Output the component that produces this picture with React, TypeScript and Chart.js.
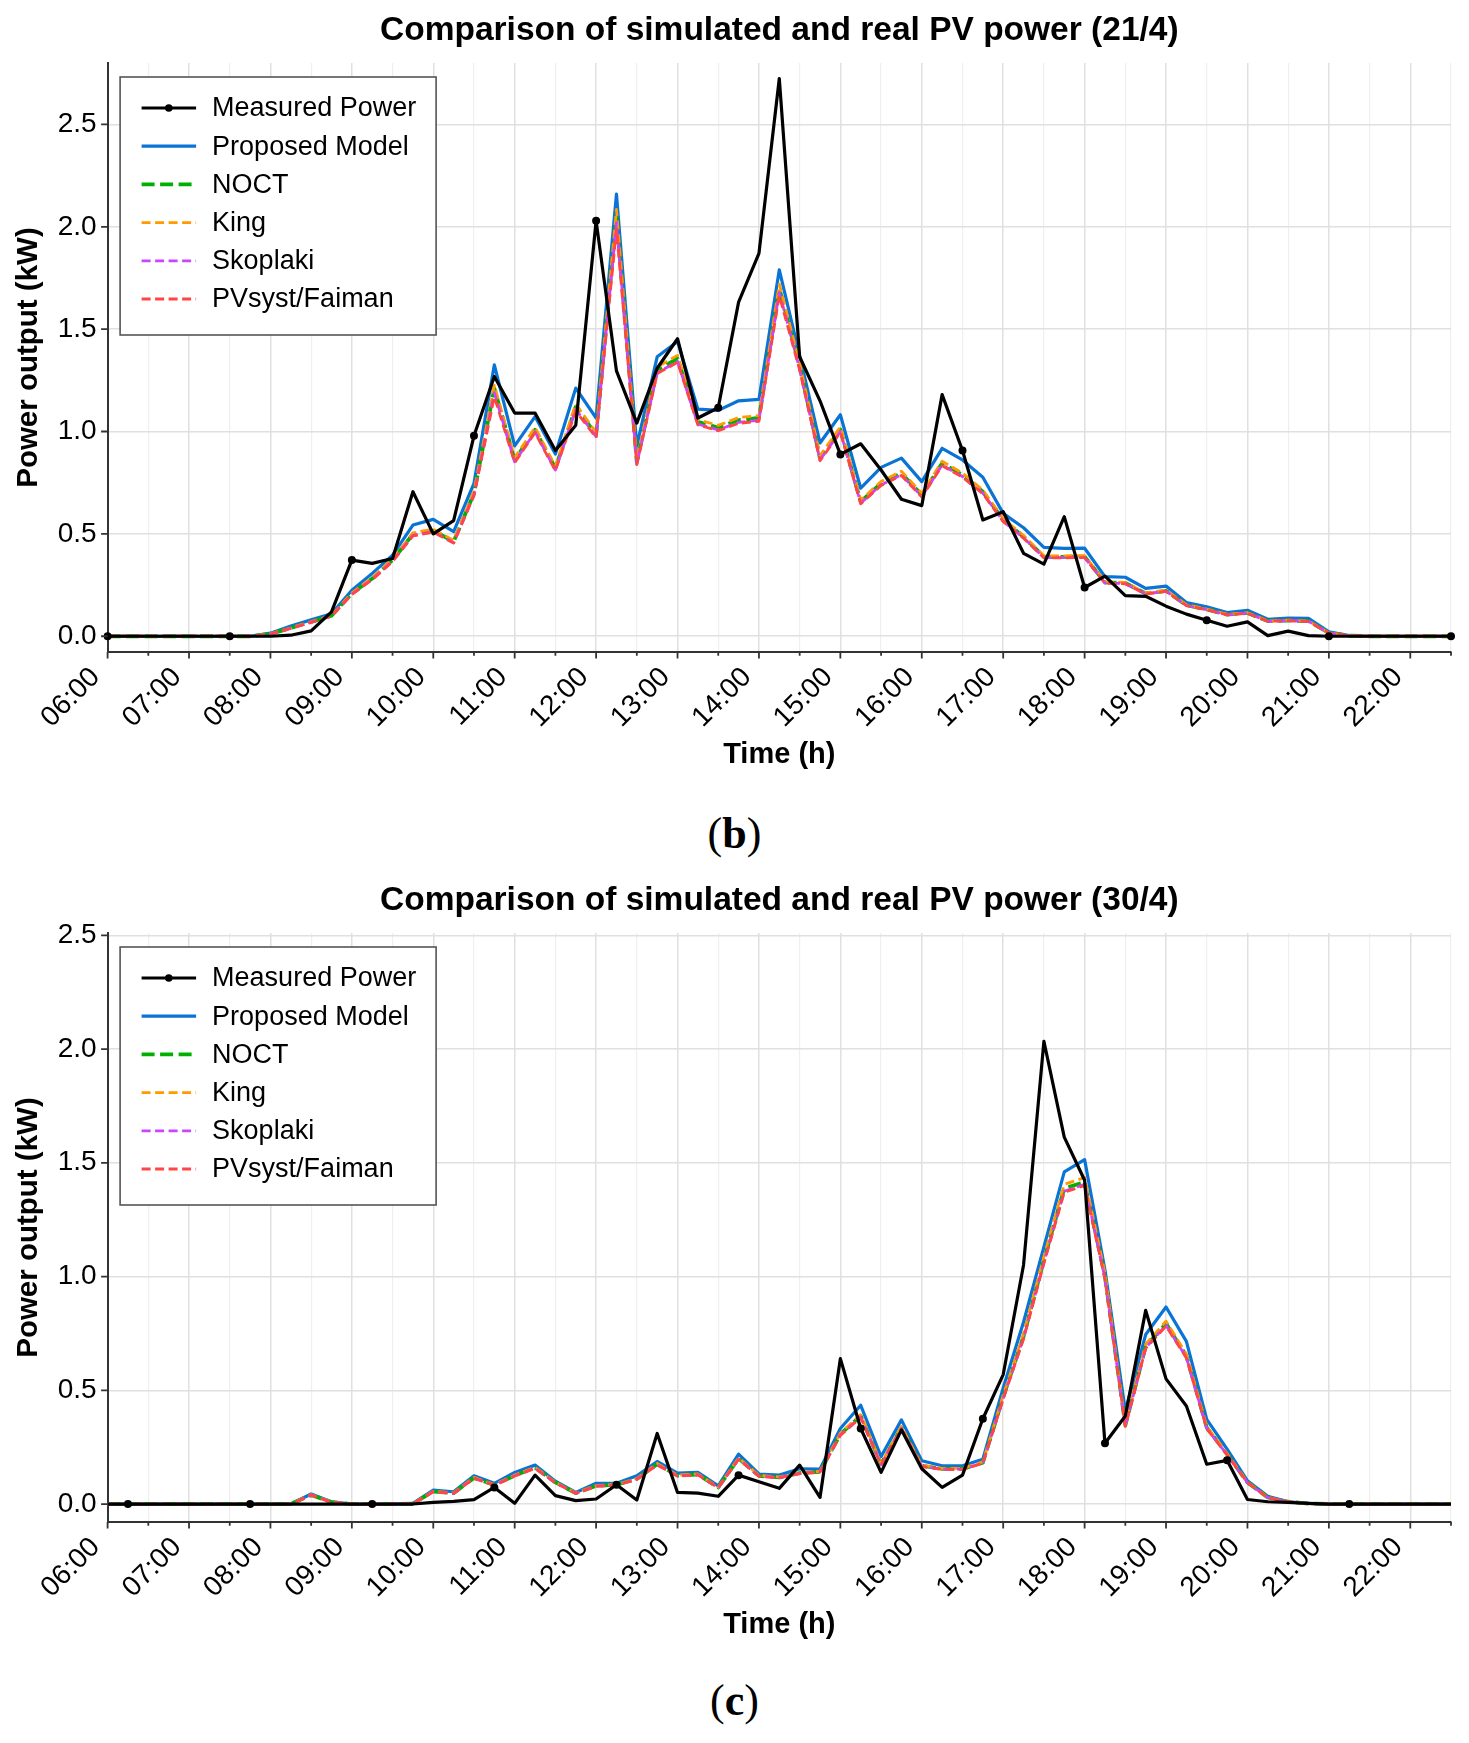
import React, { useEffect, useRef } from 'react';
import { Chart, registerables } from 'chart.js';

Chart.register(...registerables);

// ---------- data ----------
const TIMES = [
  '06:00', '06:15', '06:30', '06:45', '07:00', '07:15', '07:30', '07:45',
  '08:00', '08:15', '08:30', '08:45', '09:00', '09:15', '09:30', '09:45',
  '10:00', '10:15', '10:30', '10:45', '11:00', '11:15', '11:30', '11:45',
  '12:00', '12:15', '12:30', '12:45', '13:00', '13:15', '13:30', '13:45',
  '14:00', '14:15', '14:30', '14:45', '15:00', '15:15', '15:30', '15:45',
  '16:00', '16:15', '16:30', '16:45', '17:00', '17:15', '17:30', '17:45',
  '18:00', '18:15', '18:30', '18:45', '19:00', '19:15', '19:30', '19:45',
  '20:00', '20:15', '20:30', '20:45', '21:00', '21:15', '21:30', '21:45',
  '22:00', '22:15', '22:30',
];

const Y_TICKS = [0, 0.5, 1.0, 1.5, 2.0, 2.5];

const SERIES_LABELS = ['Measured Power', 'Proposed Model', 'NOCT', 'King', 'Skoplaki', 'PVsyst/Faiman'];

const TITLE_21 = 'Comparison of simulated and real PV power (21/4)';
const TITLE_30 = 'Comparison of simulated and real PV power (30/4)';

// 21/4
const MEASURED_21 = [
  0, 0, 0, 0, 0, 0, 0, 0,
  0, 0.005, 0.026, 0.119, 0.372, 0.356, 0.38, 0.706,
  0.50, 0.565, 0.979, 1.269, 1.09, 1.09, 0.907, 1.03,
  2.029, 1.296, 1.041, 1.309, 1.453, 1.066, 1.116, 1.632,
  1.87, 2.724, 1.365, 1.15, 0.888, 0.94, 0.812, 0.669,
  0.638, 1.18, 0.907, 0.568, 0.608, 0.405, 0.352, 0.584,
  0.238, 0.294, 0.198, 0.195, 0.147, 0.108, 0.078, 0.049,
  0.07, 0.003, 0.025, 0.003, 0, 0, 0, 0,
  0, 0, 0,
];
const PROPOSED_21 = [
  0, 0, 0, 0, 0, 0, 0, 0,
  0.015, 0.05, 0.08, 0.11, 0.225, 0.307, 0.396, 0.543,
  0.571, 0.511, 0.747, 1.326, 0.93, 1.073, 0.89, 1.212,
  1.066, 2.16, 0.93, 1.365, 1.44, 1.109, 1.103, 1.15,
  1.157, 1.79, 1.37, 0.944, 1.082, 0.723, 0.825, 0.87,
  0.755, 0.918, 0.861, 0.777, 0.60, 0.53, 0.434, 0.429,
  0.43, 0.291, 0.288, 0.234, 0.245, 0.165, 0.144, 0.116,
  0.127, 0.083, 0.088, 0.087, 0.021, 0.003, 0, 0,
  0, 0, 0,
];
const NOCT_21 = [
  0, 0, 0, 0, 0, 0, 0, 0,
  0.012, 0.04, 0.07, 0.10, 0.209, 0.282, 0.372, 0.498,
  0.516, 0.462, 0.698, 1.21, 0.861, 1.008, 0.82, 1.12,
  0.985, 2.05, 0.851, 1.30, 1.356, 1.047, 1.019, 1.056,
  1.066, 1.70, 1.32, 0.87, 1.01, 0.657, 0.747, 0.796,
  0.69, 0.845, 0.788, 0.706, 0.568, 0.486, 0.388, 0.388,
  0.389, 0.263, 0.26, 0.209, 0.222, 0.152, 0.131, 0.106,
  0.114, 0.074, 0.077, 0.074, 0.016, 0.003, 0, 0,
  0, 0, 0,
];
const KING_21 = [
  0, 0, 0, 0, 0, 0, 0, 0,
  0.012, 0.041, 0.071, 0.101, 0.212, 0.286, 0.377, 0.505,
  0.523, 0.468, 0.708, 1.225, 0.873, 1.02, 0.83, 1.135,
  0.995, 2.085, 0.862, 1.315, 1.372, 1.058, 1.03, 1.068,
  1.078, 1.72, 1.335, 0.882, 1.022, 0.665, 0.756, 0.806,
  0.698, 0.855, 0.797, 0.714, 0.575, 0.492, 0.393, 0.393,
  0.394, 0.266, 0.263, 0.212, 0.225, 0.154, 0.133, 0.107,
  0.115, 0.075, 0.078, 0.075, 0.016, 0.003, 0, 0,
  0, 0, 0,
];
const SKOPLAKI_21 = [
  0, 0, 0, 0, 0, 0, 0, 0,
  0.011, 0.039, 0.069, 0.099, 0.206, 0.279, 0.368, 0.493,
  0.511, 0.457, 0.691, 1.19, 0.852, 0.998, 0.812, 1.108,
  0.975, 2.02, 0.842, 1.287, 1.342, 1.036, 1.008, 1.045,
  1.055, 1.68, 1.306, 0.861, 1.0, 0.65, 0.739, 0.788,
  0.683, 0.836, 0.78, 0.699, 0.562, 0.481, 0.384, 0.384,
  0.385, 0.26, 0.257, 0.207, 0.22, 0.15, 0.13, 0.105,
  0.113, 0.073, 0.076, 0.073, 0.016, 0.003, 0, 0,
  0, 0, 0,
];
const PVSYST_21 = [
  0, 0, 0, 0, 0, 0, 0, 0,
  0.011, 0.038, 0.068, 0.098, 0.204, 0.276, 0.365, 0.49,
  0.508, 0.455, 0.687, 1.17, 0.848, 0.994, 0.808, 1.10,
  0.97, 1.99, 0.838, 1.283, 1.338, 1.032, 1.004, 1.04,
  1.05, 1.665, 1.30, 0.857, 0.996, 0.647, 0.736, 0.785,
  0.68, 0.833, 0.777, 0.696, 0.56, 0.479, 0.383, 0.383,
  0.384, 0.259, 0.256, 0.206, 0.219, 0.15, 0.129, 0.104,
  0.112, 0.073, 0.076, 0.073, 0.015, 0.003, 0, 0,
  0, 0, 0,
];

// 30/4
const MEASURED_30 = [
  0, 0, 0, 0, 0, 0, 0, 0,
  0, 0, 0, 0, 0, 0, 0, 0,
  0.007, 0.012, 0.019, 0.073, 0.003, 0.127, 0.037, 0.015,
  0.022, 0.085, 0.018, 0.31, 0.051, 0.048, 0.034, 0.127,
  0.098, 0.069, 0.171, 0.029, 0.639, 0.332, 0.139, 0.326,
  0.155, 0.073, 0.127, 0.375, 0.569, 1.051, 2.034, 1.613,
  1.423, 0.267, 0.387, 0.851, 0.55, 0.431, 0.175, 0.192,
  0.02, 0.01, 0.007, 0.003, 0, 0, 0, 0,
  0, 0, 0,
];
const PROPOSED_30 = [
  0, 0, 0, 0, 0, 0, 0, 0,
  0, 0, 0.044, 0.01, 0, 0, 0, 0.003,
  0.061, 0.054, 0.124, 0.091, 0.139, 0.171, 0.10, 0.051,
  0.091, 0.091, 0.124, 0.187, 0.136, 0.139, 0.08, 0.219,
  0.132, 0.127, 0.155, 0.154, 0.332, 0.434, 0.209, 0.37,
  0.19, 0.168, 0.168, 0.197, 0.51, 0.80, 1.13, 1.46,
  1.514, 1.029, 0.409, 0.745, 0.866, 0.715, 0.372, 0.241,
  0.102, 0.034, 0.01, 0.003, 0, 0, 0, 0,
  0, 0, 0,
];
const NOCT_30 = [
  0, 0, 0, 0, 0, 0, 0, 0,
  0, 0, 0.04, 0.008, 0, 0, 0, 0.002,
  0.055, 0.048, 0.115, 0.084, 0.125, 0.16, 0.095, 0.048,
  0.08, 0.085, 0.11, 0.175, 0.125, 0.13, 0.073, 0.2,
  0.124, 0.117, 0.136, 0.142, 0.307, 0.387, 0.175, 0.336,
  0.168, 0.155, 0.155, 0.182, 0.47, 0.737, 1.073, 1.387,
  1.415, 1.0, 0.346, 0.693, 0.793, 0.65, 0.336, 0.219,
  0.095, 0.029, 0.01, 0.002, 0, 0, 0, 0,
  0, 0, 0,
];
const KING_30 = [
  0, 0, 0, 0, 0, 0, 0, 0,
  0, 0, 0.041, 0.008, 0, 0, 0, 0.002,
  0.056, 0.049, 0.117, 0.085, 0.127, 0.162, 0.096, 0.049,
  0.081, 0.086, 0.112, 0.178, 0.127, 0.132, 0.074, 0.203,
  0.126, 0.119, 0.138, 0.144, 0.312, 0.393, 0.178, 0.341,
  0.17, 0.157, 0.157, 0.185, 0.478, 0.748, 1.088, 1.405,
  1.435, 1.015, 0.351, 0.703, 0.804, 0.659, 0.341, 0.222,
  0.096, 0.029, 0.01, 0.002, 0, 0, 0, 0,
  0, 0, 0,
];
const SKOPLAKI_30 = [
  0, 0, 0, 0, 0, 0, 0, 0,
  0, 0, 0.04, 0.008, 0, 0, 0, 0.002,
  0.054, 0.047, 0.114, 0.083, 0.124, 0.158, 0.094, 0.047,
  0.079, 0.084, 0.109, 0.173, 0.124, 0.129, 0.072, 0.198,
  0.123, 0.116, 0.135, 0.141, 0.304, 0.383, 0.173, 0.333,
  0.166, 0.153, 0.153, 0.18, 0.465, 0.73, 1.063, 1.375,
  1.405, 0.992, 0.343, 0.687, 0.786, 0.645, 0.333, 0.217,
  0.094, 0.028, 0.01, 0.002, 0, 0, 0, 0,
  0, 0, 0,
];
const PVSYST_30 = [
  0, 0, 0, 0, 0, 0, 0, 0,
  0, 0, 0.039, 0.008, 0, 0, 0, 0.002,
  0.054, 0.047, 0.113, 0.082, 0.123, 0.157, 0.093, 0.047,
  0.078, 0.083, 0.108, 0.172, 0.123, 0.128, 0.072, 0.197,
  0.122, 0.115, 0.134, 0.14, 0.302, 0.38, 0.172, 0.331,
  0.165, 0.152, 0.152, 0.179, 0.462, 0.726, 1.058, 1.37,
  1.40, 0.988, 0.341, 0.684, 0.782, 0.642, 0.331, 0.216,
  0.094, 0.028, 0.01, 0.002, 0, 0, 0, 0,
  0, 0, 0,
];

// ---------- styles ----------
const FONT = '"Liberation Sans", Arial, Helvetica, sans-serif';
const GRID_MAJOR = '#e0e0e0';
const GRID_MINOR = '#efefef';
const AXIS_COLOR = '#333333';
const CANVAS_W = 1469;
const CANVAS_H = 790;

const STYLES = [
  { color: '#000000', width: 3.2, dash: [] as number[], order: 0, marker: true },
  { color: '#0a74d6', width: 3.2, dash: [] as number[], order: 5, marker: false },
  { color: '#00b000', width: 3.8, dash: [13, 5.5], order: 4, marker: false },
  { color: '#ff9a00', width: 2.8, dash: [9, 4.5], order: 3, marker: false },
  { color: '#cc44ff', width: 2.8, dash: [9, 4.5], order: 2, marker: false },
  { color: '#ff4545', width: 2.8, dash: [9, 4.5], order: 1, marker: false },
];

const tickMarksPlugin = {
  id: 'tickMarks',
  afterDraw(chart: any) {
    const { ctx, chartArea, scales } = chart;
    ctx.save();
    ctx.strokeStyle = AXIS_COLOR;
    ctx.lineWidth = 1.8;
    ctx.beginPath();
    TIMES.forEach((t, i) => {
      const len = t.endsWith(':00') ? 6.5 : t.endsWith(':30') ? 3.8 : 0;
      if (!len) return;
      const x = scales.x.getPixelForValue(i);
      ctx.moveTo(x, chartArea.bottom);
      ctx.lineTo(x, chartArea.bottom + len);
    });
    Y_TICKS.forEach((v) => {
      const y = scales.y.getPixelForValue(v);
      ctx.moveTo(chartArea.left - 6.5, y);
      ctx.lineTo(chartArea.left, y);
    });
    ctx.stroke();
    ctx.restore();
  },
};

const boxLegendPlugin = {
  id: 'boxLegend',
  afterDraw(chart: any) {
    const { ctx, chartArea } = chart;
    const x0 = chartArea.left + 12.5;
    const y0 = chartArea.top + 14;
    const w = 316;
    const h = 258;
    ctx.save();
    ctx.fillStyle = '#ffffff';
    ctx.fillRect(x0, y0, w, h);
    ctx.strokeStyle = '#555555';
    ctx.lineWidth = 1.6;
    ctx.strokeRect(x0, y0, w, h);
    chart.data.datasets.forEach((ds: any, i: number) => {
      const y = y0 + 31 + i * 38.2;
      ctx.beginPath();
      ctx.setLineDash(ds.borderDash || []);
      ctx.strokeStyle = ds.borderColor;
      ctx.lineWidth = ds.borderWidth;
      ctx.moveTo(x0 + 21.5, y);
      ctx.lineTo(x0 + 76, y);
      ctx.stroke();
      ctx.setLineDash([]);
      if (ds.legendMarker) {
        ctx.beginPath();
        ctx.fillStyle = ds.borderColor;
        ctx.arc(x0 + 48.7, y, 3.8, 0, Math.PI * 2);
        ctx.fill();
      }
      ctx.fillStyle = '#000000';
      ctx.font = `27px ${FONT}`;
      ctx.textBaseline = 'middle';
      ctx.textAlign = 'left';
      ctx.fillText(ds.label, x0 + 92, y + 1);
    });
    ctx.restore();
  },
};

type PanelProps = {
  title: string;
  series: number[][];
  yMin: number;
  yMax: number;
  markStart: number;
  top: number;
};

function PVPanel({ title, series, yMin, yMax, markStart, top }: PanelProps) {
  const ref = useRef<HTMLCanvasElement>(null);

  useEffect(() => {
    if (!ref.current) return;
    const datasets = series.map((vals, i) => {
      const st = STYLES[i];
      return {
        label: SERIES_LABELS[i],
        data: vals,
        borderColor: st.color,
        backgroundColor: st.color,
        borderWidth: st.width,
        borderDash: st.dash,
        borderJoinStyle: 'round' as const,
        borderCapStyle: 'butt' as const,
        order: st.order,
        fill: false,
        tension: 0,
        legendMarker: st.marker,
        pointRadius: st.marker
          ? (c: any) => (c.dataIndex >= markStart && (c.dataIndex - markStart) % 6 === 0 ? 4 : 0)
          : 0,
        pointBackgroundColor: st.color,
        pointBorderWidth: 0,
        pointHoverRadius: 0,
      };
    });

    const chart = new Chart(ref.current, {
      type: 'line',
      data: { labels: TIMES, datasets: datasets as any },
      options: {
        responsive: false,
        animation: false,
        events: [],
        devicePixelRatio: 1,
        layout: { padding: { left: 0, right: 18, top: 0, bottom: 15 } },
        plugins: {
          legend: { display: false },
          tooltip: { enabled: false },
          title: {
            display: true,
            text: title,
            fullSize: false,
            color: '#000000',
            font: { family: FONT, size: 33.5, weight: 'bold' },
            padding: { top: 11, bottom: 11.8 },
          },
        },
        scales: {
          x: {
            type: 'category',
            offset: false,
            grid: {
              drawTicks: false,
              color: (c: any) => {
                const t = TIMES[c.index] || '';
                return t.endsWith(':00') ? GRID_MAJOR : t.endsWith(':30') ? GRID_MINOR : 'rgba(0,0,0,0)';
              },
              lineWidth: (c: any) => {
                const t = TIMES[c.index] || '';
                return t.endsWith(':00') ? 1.5 : 1.2;
              },
            },
            border: { display: true, color: AXIS_COLOR, width: 2 },
            ticks: {
              autoSkip: false,
              maxRotation: 45,
              minRotation: 45,
              padding: 9,
              labelOffset: -12,
              color: '#000000',
              font: { family: FONT, size: 28 },
              callback: (_v: any, i: number) => {
                const t = TIMES[i];
                return t.endsWith(':00') ? t : '';
              },
            },
            title: {
              display: true,
              text: 'Time (h)',
              color: '#000000',
              font: { family: FONT, size: 29, weight: 'bold' },
              padding: { top: 0, bottom: 3 },
            },
            afterFit: (s: any) => {
              s.height = 123;
              s.paddingLeft = 0;
              s.paddingRight = 0;
            },
          },
          y: {
            type: 'linear',
            min: yMin,
            max: yMax,
            afterBuildTicks: (s: any) => {
              s.ticks = Y_TICKS.map((v) => ({ value: v }));
            },
            grid: { drawTicks: false, color: GRID_MAJOR, lineWidth: 1.5 },
            border: { display: true, color: AXIS_COLOR, width: 2 },
            ticks: {
              padding: 11,
              color: '#000000',
              font: { family: FONT, size: 28 },
              callback: (v: any) => Number(v).toFixed(1),
            },
            title: {
              display: true,
              text: 'Power output (kW)',
              color: '#000000',
              font: { family: FONT, size: 29.5, weight: 'bold' },
              padding: { top: 11, bottom: 0 },
            },
            afterFit: (s: any) => {
              s.width = 107.6;
              s.paddingTop = 0;
              s.paddingBottom = 0;
            },
          },
        },
      } as any,
      plugins: [tickMarksPlugin, boxLegendPlugin],
    });
    return () => chart.destroy();
  }, [title, series, yMin, yMax, markStart]);

  return (
    <canvas
      ref={ref}
      width={CANVAS_W}
      height={CANVAS_H}
      style={{ position: 'absolute', left: 0, top, width: CANVAS_W, height: CANVAS_H }}
    />
  );
}

const SERIES_21 = [MEASURED_21, PROPOSED_21, NOCT_21, KING_21, SKOPLAKI_21, PVSYST_21];
const SERIES_30 = [MEASURED_30, PROPOSED_30, NOCT_30, KING_30, SKOPLAKI_30, PVSYST_30];

const captionStyle: React.CSSProperties = {
  position: 'absolute',
  left: 0,
  width: CANVAS_W,
  textAlign: 'center',
  fontFamily: '"Liberation Serif", "Times New Roman", serif',
  fontSize: 44,
  lineHeight: '44px',
  color: '#000000',
};

export default function App() {
  return (
    <div style={{ position: 'absolute', left: 0, top: 0, width: CANVAS_W, height: 1743, background: '#ffffff' }}>
      <PVPanel title={TITLE_21} series={SERIES_21} yMin={-0.077} yMax={2.8} markStart={0} top={0} />
      <div style={{ ...captionStyle, top: 812 }}>
        (<b>b</b>)
      </div>
      <PVPanel title={TITLE_30} series={SERIES_30} yMin={-0.079} yMax={2.51} markStart={1} top={870} />
      <div style={{ ...captionStyle, top: 1679 }}>
        (<b>c</b>)
      </div>
    </div>
  );
}
